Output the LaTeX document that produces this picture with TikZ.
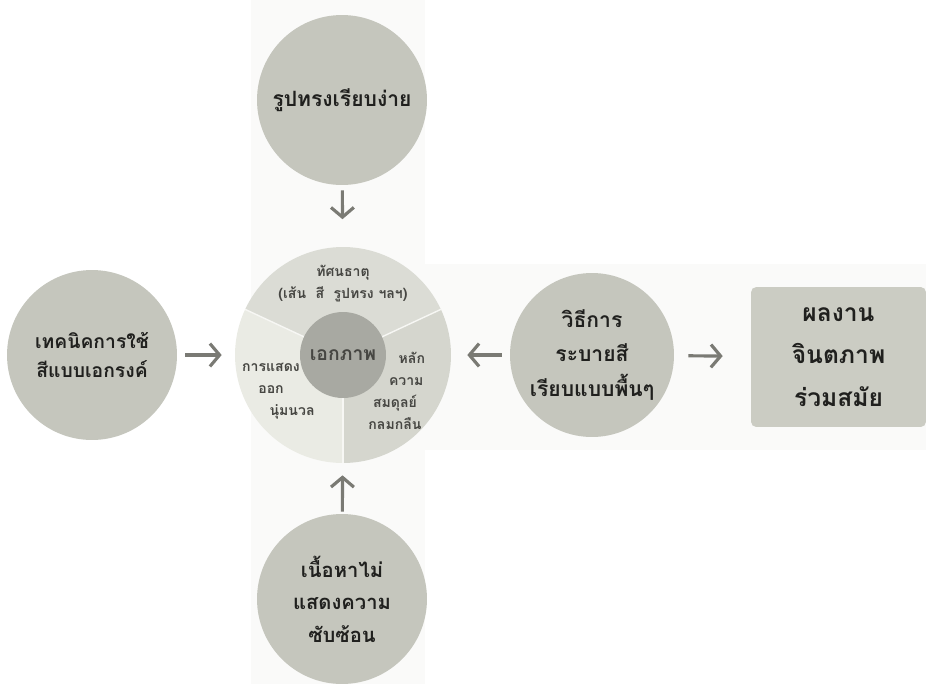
\documentclass[tikz,border=0pt]{standalone}
\usepackage{fontspec}
\newfontfamily\thaifont[Script=Thai]{Loma}
\usepackage{tikz}
\usetikzlibrary{arrows.meta, positioning, calc}
\definecolor{bandgray}{RGB}{250,250,249}
\definecolor{outergray}{RGB}{197,198,189}
\definecolor{boxgray}{RGB}{203,204,195}
\definecolor{coregray}{RGB}{168,169,162}
\definecolor{sectop}{RGB}{219,220,213}
\definecolor{secleft}{RGB}{234,235,228}
\definecolor{secright}{RGB}{213,214,206}
\definecolor{inkdark}{RGB}{32,32,30}
\definecolor{inkmid}{RGB}{70,70,66}
\definecolor{arrowgray}{RGB}{122,122,116}
\tikzset{
  bubble/.style={circle, fill=outergray, minimum size=3.4cm, inner sep=0pt,
    align=center, text=inkdark, font=\thaifont\bfseries\fontsize{12}{19}\selectfont},
  resultbox/.style={rectangle, rounded corners=3pt, fill=boxgray, minimum width=3.5cm,
    minimum height=2.8cm, align=center, text=inkdark,
    font=\thaifont\bfseries\fontsize{14}{24}\selectfont},
  core/.style={circle, fill=coregray, minimum size=1.72cm, inner sep=0pt,
    text=inkmid, font=\thaifont\bfseries\fontsize{11}{13}\selectfont},
  ring/.style={circle, minimum size=4.32cm, inner sep=0pt},
  sectortext/.style={align=center, text=inkmid,
    font=\thaifont\bfseries\fontsize{8}{12.5}\selectfont},
  arrow/.style={-{Straight Barb[length=5.5pt, width=13pt]}, line width=1.8pt,
    color=arrowgray},
}

\begin{document}
\begin{tikzpicture}[x=0.02cm, y=-0.02cm]
  \useasboundingbox (0,0) rectangle (926,684);
  % Background bands
  \fill[bandgray] (251,0) rectangle (425,684);
  \fill[bandgray] (425,264) rectangle (926,450);
  % Centre wheel
  \coordinate (hubc) at (343,355);
  \fill[sectop] (hubc) -- ++(25:2.16cm) arc[start angle=25, end angle=155, radius=2.16cm] -- cycle;
  \fill[secleft] (hubc) -- ++(155:2.16cm) arc[start angle=155, end angle=270, radius=2.16cm] -- cycle;
  \fill[secright] (hubc) -- ++(270:2.16cm) arc[start angle=270, end angle=385, radius=2.16cm] -- cycle;
  \foreach \ang in {25,155,270}
    \draw[white!60!secleft, line width=0.8pt] (hubc) -- ++(\ang:2.16cm);
  \node[ring] (wheel) at (hubc) {};
  \node[core] (hub) at (hubc) {เอกภาพ};
  \node[sectortext] (elements) at (343,284) {ทัศนธาตุ\\(เส้น\ \ สี\ \ รูปทรง ฯลฯ)};
  \node[sectortext] (express) at (271,391) {การแสดง\\ออก\\\hspace*{3em}นุ่มนวล};
  \node[sectortext] (balance) at (395,391) {\hspace*{2.4em}หลัก\\\hspace*{1.6em}ความ\\สมดุลย์\\กลมกลืน};
  % Outer factors
  \node[bubble] (shape) at (342,100) {รูปทรงเรียบง่าย};
  \node[bubble, font=\thaifont\bfseries\fontsize{11}{19}\selectfont]
    (mono) at (92,355) {เทคนิคการใช้\\[-3pt]สีแบบเอกรงค์};
  \node[bubble, minimum size=3.28cm, font=\thaifont\bfseries\fontsize{12}{19.5}\selectfont]
    (paint) at (592,355) {วิธีการ\\ระบายสี\\เรียบแบบพื้นๆ};
  \node[bubble, font=\thaifont\bfseries\fontsize{11.5}{18.5}\selectfont]
    (content) at (342,599) {เนื้อหาไม่\\แสดงความ\\ซับซ้อน};
  \node[resultbox] (result) at (838.5,357) {ผลงาน\\จินตภาพ\\ร่วมสมัย};
  % Arrows
  \draw[arrow, shorten <=0.1cm, shorten >=0.55cm] (shape) -- (wheel);
  \draw[arrow, shorten <=0.16cm, shorten >=0.26cm] (mono) -- (wheel);
  \draw[arrow, shorten <=0.16cm, shorten >=0.32cm] (paint) -- (wheel);
  \draw[arrow, shorten <=0.28cm, shorten >=0.56cm] (paint) -- (result);
  \draw[arrow, shorten <=0.04cm, shorten >=0.24cm] (content) -- (wheel);
\end{tikzpicture}
\end{document}
